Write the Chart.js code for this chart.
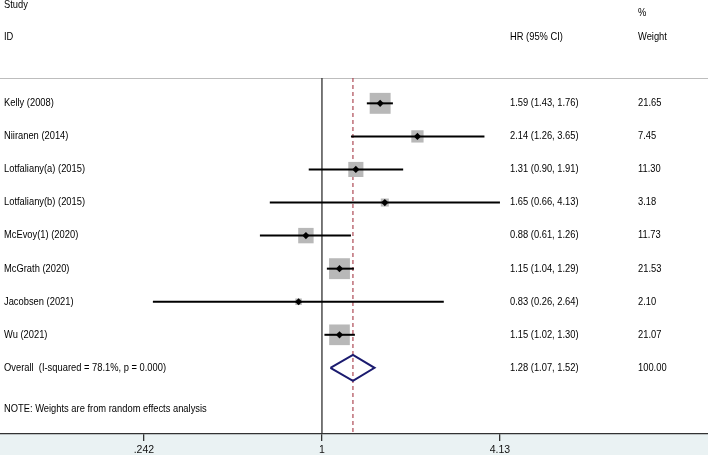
<!DOCTYPE html>
<html>
<head>
<meta charset="utf-8">
<script src="https://cdn.jsdelivr.net/npm/chart.js"></script>
<style>
  html, body { margin: 0; padding: 0; background: #fff; }
  #wrap { width: 708px; height: 455px; }
</style>
</head>
<body>
<div id="wrap"><canvas id="forest" width="708" height="455"></canvas></div>
<script>
// Study data
const studies = ['Kelly (2008)', 'Niiranen (2014)', 'Lotfaliany(a) (2015)', 'Lotfaliany(b) (2015)',
    'McEvoy(1) (2020)', 'McGrath (2020)', 'Jacobsen (2021)', 'Wu (2021)'];
const hr = [1.59, 2.14, 1.31, 1.65, 0.88, 1.15, 0.83, 1.15];
const lower = [1.43, 1.26, 0.90, 0.66, 0.61, 1.04, 0.26, 1.02];
const upper = [1.76, 3.65, 1.91, 4.13, 1.26, 1.29, 2.64, 1.30];
const weights = [21.65, 7.45, 11.30, 3.18, 11.73, 21.53, 2.10, 21.07];
const hrText = ['1.59 (1.43, 1.76)', '2.14 (1.26, 3.65)', '1.31 (0.90, 1.91)', '1.65 (0.66, 4.13)',
    '0.88 (0.61, 1.26)', '1.15 (1.04, 1.29)', '0.83 (0.26, 2.64)', '1.15 (1.02, 1.30)'];
const weightText = ['21.65', '7.45', '11.30', '3.18', '11.73', '21.53', '2.10', '21.07'];

// Overall (random effects)
const overallLabel = 'Overall  (I-squared = 78.1%, p = 0.000)';
const overallEst = [1.28, 1.07, 1.52]; // estimate, lower, upper
const overallText = ['1.28 (1.07, 1.52)', '100.00'];
const note = 'NOTE: Weights are from random effects analysis';

// Axis ticks
const tickValues = [0.242, 1, 4.13];
const tickLabels = ['.242', '1', '4.13'];

const FONT = '10.5px "Liberation Sans", Arial, sans-serif';
const SQUEEZE = 0.89; // stata text is a bit narrower
const overallRow = studies.length;
const topRow = -0.765;

// Study boxes: area proportional to weight
const boxRadius = weights.map(w => 4.5 * Math.sqrt(w) / Math.SQRT2);

const ciSets = studies.map((s, i) => ({
    data: [{x: lower[i], y: i}, {x: upper[i], y: i}],
    showLine: true,
    borderColor: '#000',
    borderWidth: 2,
    pointRadius: 0,
    order: 3
}));

const datasets = [
    {   // line of no effect
        data: [{x: 1, y: topRow}, {x: 1, y: 10}],
        showLine: true, borderColor: '#333', borderWidth: 1.3, pointRadius: 0, order: 10
    },
    {   // overall effect line
        data: [{x: overallEst[0], y: topRow}, {x: overallEst[0], y: 10}],
        showLine: true, borderColor: '#ad4a55', borderWidth: 1.2, borderDash: [4, 3],
        pointRadius: 0, order: 9
    },
    {   // weight boxes
        data: hr.map((v, i) => ({x: v, y: i})),
        pointStyle: 'rect', pointRadius: boxRadius, backgroundColor: '#b8b8b8',
        borderWidth: 0, order: 5
    },
    ...ciSets,
    {   // point estimates
        data: hr.map((v, i) => ({x: v, y: i})),
        pointStyle: 'rectRot', pointRadius: 3.6, backgroundColor: '#000',
        borderColor: '#000', borderWidth: 0, order: 1
    },
    {   // overall diamond
        data: [
            {x: overallEst[1], y: overallRow},
            {x: overallEst[0], y: overallRow - 0.39},
            {x: overallEst[2], y: overallRow},
            {x: overallEst[0], y: overallRow + 0.39},
            {x: overallEst[1], y: overallRow}
        ],
        showLine: true, borderColor: '#1b1b6f', borderWidth: 2, pointRadius: 0,
        tension: 0, order: 2
    }
];

const backdrop = {
    id: 'backdrop',
    beforeDraw(chart) {
        const {ctx, chartArea} = chart;
        ctx.save();
        ctx.fillStyle = '#fff';
        ctx.fillRect(0, 0, chart.width, chart.height);
        ctx.fillStyle = '#eaf2f3';
        ctx.fillRect(0, chartArea.bottom, chart.width, chart.height - chartArea.bottom);
        ctx.restore();
    },
    beforeDatasetsDraw(chart) {
        const {ctx, scales} = chart;
        const y = Math.round(scales.y.getPixelForValue(topRow)) + 0.5;
        ctx.save();
        ctx.strokeStyle = '#bdbdbd';
        ctx.lineWidth = 1;
        ctx.beginPath();
        ctx.moveTo(0, y);
        ctx.lineTo(chart.width, y);
        ctx.stroke();
        ctx.restore();
    }
};

function put(ctx, text, x, y) {
    ctx.save();
    ctx.translate(x, y);
    ctx.scale(SQUEEZE, 1);
    ctx.fillText(text, 0, 0);
    ctx.restore();
}

const textColumns = {
    id: 'textColumns',
    afterDatasetsDraw(chart) {
        const {ctx, scales} = chart;
        const y = v => scales.y.getPixelForValue(v);
        const xStudy = 4, xHR = 510, xW = 638;
        ctx.save();
        ctx.font = FONT;
        ctx.fillStyle = '#000';
        ctx.textBaseline = 'middle';
        ctx.textAlign = 'left';
        put(ctx, 'Study', xStudy, y(-2.97));
        put(ctx, '%', xW, y(-2.74));
        put(ctx, 'ID', xStudy, y(-2.0));
        put(ctx, 'HR (95% CI)', xHR, y(-2.0));
        put(ctx, 'Weight', xW, y(-2.0));
        studies.forEach((s, i) => {
            put(ctx, s, xStudy, y(i));
            put(ctx, hrText[i], xHR, y(i));
            put(ctx, weightText[i], xW, y(i));
        });
        put(ctx, overallLabel, xStudy, y(overallRow));
        put(ctx, overallText[0], xHR, y(overallRow));
        put(ctx, overallText[1], xW, y(overallRow));
        put(ctx, note, xStudy, y(9.25));
        ctx.restore();
    }
};

new Chart(document.getElementById('forest').getContext('2d'), {
    type: 'scatter',
    data: { datasets: datasets },
    options: {
        responsive: false,
        animation: false,
        layout: { padding: 0, autoPadding: false },
        plugins: {
            legend: { display: false },
            tooltip: { enabled: false }
        },
        scales: {
            x: {
                type: 'logarithmic',
                min: 0.0769,
                max: 21.67,
                afterBuildTicks: scale => {
                    scale.ticks = tickValues.map(v => ({ value: v }));
                },
                afterFit: scale => {
                    scale.height = 21;
                    scale.paddingLeft = 0;
                    scale.paddingRight = 0;
                },
                ticks: {
                    autoSkip: false,
                    maxRotation: 0,
                    padding: 3,
                    color: '#111',
                    font: { family: '"Liberation Sans", Arial, sans-serif', size: 10.5 },
                    callback: (value, index) => tickLabels[index]
                },
                grid: { drawOnChartArea: false, tickLength: 7, color: '#333', lineWidth: 1.3 },
                border: { color: '#333', width: 1.3 }
            },
            y: {
                type: 'linear',
                reverse: true,
                min: -3.125,
                max: 10,
                display: false
            }
        }
    },
    plugins: [backdrop, textColumns]
});
</script>
</body>
</html>
